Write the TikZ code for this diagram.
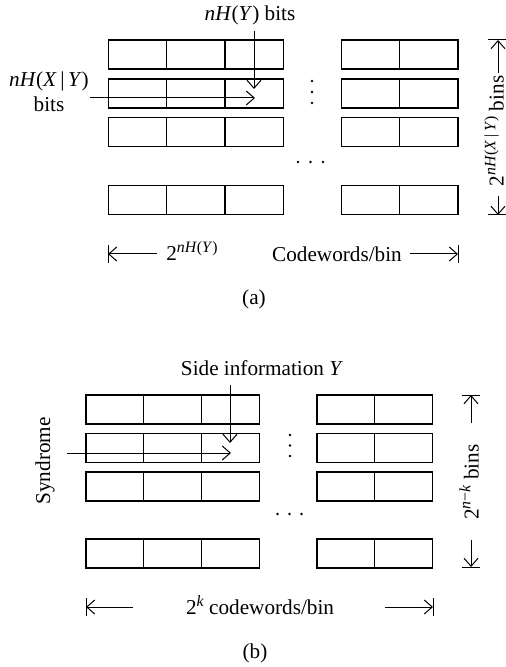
\documentclass[tikz,border=0pt]{standalone}
\usepackage{fontspec}
\setmainfont{Liberation Serif}
\usepackage{tikz}
\usetikzlibrary{arrows.meta}
\newcommand{\iv}[1]{\textit{#1}}
\newcommand{\expo}[1]{\raisebox{.85ex}{\fontsize{7.9}{8}\selectfont #1}}
\tikzstyle{cell}=[draw,line width=.6pt,inner sep=0pt,minimum height=14.5pt]
\tikzstyle{arr}=[line width=.5pt,-{Straight Barb[length=4pt,width=7pt]}]
\tikzstyle{bar}=[line width=.5pt]
\tikzstyle{lbl}=[inner sep=1pt]

\begin{document}
\begin{tikzpicture}[x=.5pt,y=-.5pt,font=\fontsize{10.6}{12.5}\selectfont]
			\useasboundingbox (0,0) rectangle (506,667);
			% (a)
			\foreach \r/\y in {1/54.5,2/93.5,3/132,4/200}{
				\foreach \c/\x in {1/137.3,2/195.7,3/254,4/370.3,5/428.8}
					\node[cell,minimum width=29.2pt] (a\r\c) at (\x,\y) {};
			}
			\foreach \y in {81,92,103} \fill (312,\y) circle (.7pt);
			\foreach \x in {298,310.5,323} \fill (\x,162) circle (.7pt);
			\node[lbl] (aY) at (250,15) {\iv{nH}(\iv{Y}) bits};
			\node[lbl,align=center] (aXY) at (49,92) {\iv{nH}(\iv{X}\,|\,\iv{Y})\\bits};
			\coordinate (aYs) at (254,31);
			\coordinate (aYe) at (254,89);
			\coordinate (aXs) at (90,98);
			\coordinate (aXe) at (255,98);
			\draw[arr] (aYs) -- (aYe);
			\draw[arr] (aXs) -- (aXe);
			% width of a bin
			\node[lbl] (aW) at (192,251) {2\expo{\iv{nH}(\iv{Y})}};
			\node[lbl] (aC) at (337,254) {Codewords/bin};
			\coordinate (aL) at (108,254);
			\coordinate (aR) at (458,254);
			\draw[arr] (157,254) -- (aL);
			\draw[arr] (410,254) -- (aR);
			\draw[bar] (aL) ++(0,-9) -- ++(0,18);
			\draw[bar] (aR) ++(0,-9) -- ++(0,18);
			% number of bins
			\node[lbl,rotate=90] (aN) at (494,131) {2\expo{\iv{nH}(\iv{X}\,|\,\iv{Y})} bins};
			\coordinate (aT) at (498,40);
			\coordinate (aB) at (498,215);
			\draw[arr] (498,73) -- (aT);
			\draw[arr] (498,196) -- (aB);
			\draw[bar] (aT) ++(-10,0) -- ++(19,0);
			\draw[bar] (aB) ++(-10,0) -- ++(19,0);
			\node (acap) at (254,299) {(a)};
			% (b)
			\foreach \r/\y in {1/409.5,2/448,3/486.5,4/553.5}{
				\foreach \c/\x in {1/114.9,2/172.7,3/230.5,4/345.9,5/403.7}
					\node[cell,minimum width=28.9pt] (b\r\c) at (\x,\y) {};
			}
			\foreach \y in {435,445.5,456} \fill (290,\y) circle (.7pt);
			\foreach \x in {277.5,289.5,301.5} \fill (\x,514) circle (.7pt);
			\node[lbl] (bY) at (262,368) {Side information \iv{Y}};
			\node[lbl,rotate=90] (bS) at (45,461) {Syndrome};
			\coordinate (bYs) at (230,385);
			\coordinate (bYe) at (230,443);
			\coordinate (bSs) at (67,453);
			\coordinate (bSe) at (231,453);
			\draw[arr] (bYs) -- (bYe);
			\draw[arr] (bSs) -- (bSe);
			\node[lbl] (bC) at (260,605) {2\expo{\iv{k}} codewords/bin};
			\coordinate (bL) at (86,607);
			\coordinate (bR) at (433,607);
			\draw[arr] (133,607) -- (bL);
			\draw[arr] (385,607) -- (bR);
			\draw[bar] (bL) ++(0,-9) -- ++(0,18);
			\draw[bar] (bR) ++(0,-9) -- ++(0,18);
			\node[lbl,rotate=90] (bN) at (469,482) {2\expo{\iv{n}−\iv{k}} bins};
			\coordinate (bT) at (471,395);
			\coordinate (bB) at (471,567);
			\draw[arr] (471,423) -- (bT);
			\draw[arr] (471,540) -- (bB);
			\draw[bar] (bT) ++(-9,0) -- ++(18,0);
			\draw[bar] (bB) ++(-9,0) -- ++(18,0);
			\node (bcap) at (255,653) {(b)};
		\end{tikzpicture}
\end{document}
